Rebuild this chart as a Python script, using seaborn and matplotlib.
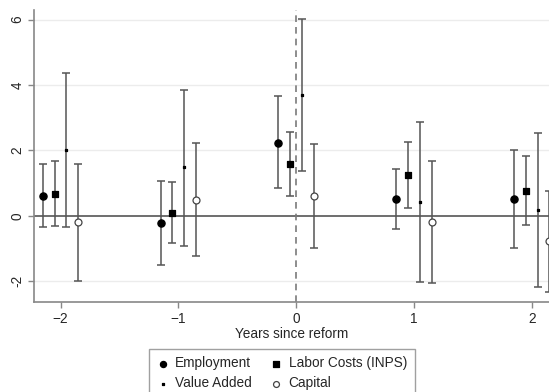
import pandas as pd
import seaborn as sns
import matplotlib.pyplot as plt

years = [-2, -1, 0, 1, 2]

emp = [0.61, -0.22, 2.24, 0.51, 0.51]
emp_lo = [-0.33, -1.50, 0.85, -0.40, -0.97]
emp_hi = [1.58, 1.05, 3.66, 1.42, 2.00]

labor = [0.67, 0.10, 1.58, 1.25, 0.76]
labor_lo = [-0.31, -0.82, 0.62, 0.25, -0.29]
labor_hi = [1.68, 1.02, 2.55, 2.25, 1.83]

va = [2.02, 1.48, 3.68, 0.42, 0.17]
va_lo = [-0.33, -0.91, 1.38, -2.01, -2.19]
va_hi = [4.38, 3.85, 6.01, 2.87, 2.54]

cap = [-0.19, 0.49, 0.61, -0.18, -0.77]
cap_lo = [-1.99, -1.24, -0.99, -2.05, -2.34]
cap_hi = [1.59, 2.22, 2.19, 1.67, 0.77]

series = ['Employment', 'Labor Costs (INPS)', 'Value Added', 'Capital']
offsets = [-0.15, -0.05, 0.05, 0.15]

rows = []
for name, off, est, lo, hi in zip(series, offsets,
                                  [emp, labor, va, cap],
                                  [emp_lo, labor_lo, va_lo, cap_lo],
                                  [emp_hi, labor_hi, va_hi, cap_hi]):
    for y, e, l, h in zip(years, est, lo, hi):
        rows.append({'series': name, 'x': y + off, 'est': e, 'lo': l, 'hi': h})
df = pd.DataFrame(rows)

sns.set_style('white')
plt.rcParams['font.family'] = ['Liberation Sans', 'DejaVu Sans']

fig = plt.figure(figsize=(5.49, 3.92), dpi=100)
ax = fig.add_axes([0.062, 0.23, 0.938, 0.745])

for v in [-2, 2, 4, 6]:
    ax.axhline(v, color='#ececec', lw=1, zorder=0)
ax.axhline(0, color='#6e6e6e', lw=1.4, zorder=1)
ax.axvline(0, color='#7a7a7a', lw=1.2, ls=(0, (4, 3)), zorder=1)

ax.errorbar(df['x'], df['est'],
            yerr=[df['est'] - df['lo'], df['hi'] - df['est']],
            fmt='none', ecolor='#555555', elinewidth=1.1, capsize=3,
            capthick=1.1, zorder=2)

markers = {'Employment': 'o', 'Labor Costs (INPS)': 's',
           'Value Added': 's', 'Capital': 'o'}
sizes = {'Employment': 5.2, 'Labor Costs (INPS)': 4.8, 'Value Added': 2.0, 'Capital': 5.0}
faces = {'Employment': 'black', 'Labor Costs (INPS)': 'black',
         'Value Added': 'black', 'Capital': 'white'}
for name in series:
    sub = df[df['series'] == name]
    sns.scatterplot(data=sub, x='x', y='est', marker=markers[name],
                    s=sizes[name] ** 2, color=faces[name],
                    edgecolor='#444444' if name == 'Capital' else 'black',
                    linewidth=0.9, ax=ax, zorder=3, label=name)

ax.set_xlim(-2.225, 2.147)
ax.set_ylim(-2.63, 6.3)
ax.set_xticks(years)
ax.set_yticks([-2, 0, 2, 4, 6])
ax.set_yticklabels(['-2', '0', '2', '4', '6'], rotation=90, va='center')
ax.tick_params(axis='both', labelsize=9.8, length=4, width=1, color='#888888',
               direction='out', bottom=True, left=True, pad=3)
ax.set_xlabel('Years since reform', fontsize=9.8, labelpad=1)
ax.set_ylabel('')
for s in ['top', 'right']:
    ax.spines[s].set_visible(False)
for s in ['left', 'bottom']:
    ax.spines[s].set_color('#888888')
    ax.spines[s].set_linewidth(1.2)

ax.legend_.remove()
handles, labels = ax.get_legend_handles_labels()
order = [0, 2, 1, 3]
leg = fig.legend([handles[i] for i in order], [labels[i] for i in order],
                 loc='upper center', bbox_to_anchor=(0.513, 0.11), ncol=2,
                 fontsize=9.8, frameon=True, fancybox=False,
                 edgecolor='#888888', handletextpad=0.4, columnspacing=1.3,
                 labelspacing=0.45, borderpad=0.55, borderaxespad=0,
                 handlelength=1.0, markerscale=0.85)

fig.savefig('out.png', dpi=100)
